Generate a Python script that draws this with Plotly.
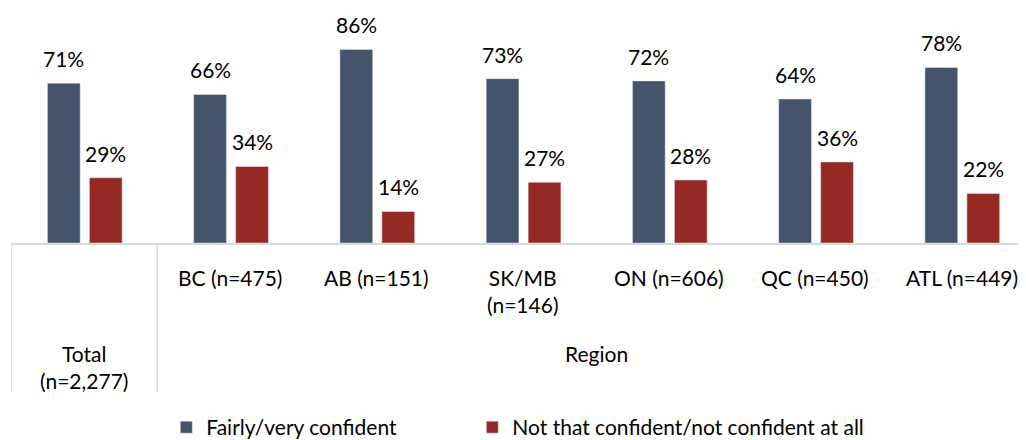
import plotly.graph_objects as go

categories = ["Total (n=2,277)", "BC (n=475)", "AB (n=151)", "SK/MB (n=146)",
              "ON (n=606)", "QC (n=450)", "ATL (n=449)"]
tick_labels = ["Total<br>(n=2,277)", "BC (n=475)", "AB (n=151)", "SK/MB<br>(n=146)",
               "ON (n=606)", "QC (n=450)", "ATL (n=449)"]
confident = [71, 66, 86, 73, 72, 64, 78]
not_confident = [29, 34, 14, 27, 28, 36, 22]
series_names = ["Fairly/very confident", "Not that confident/not confident at all"]
group_labels = ["Region"]

BLUE = "#44546A"
RED = "#952923"
FONT = "Lato"
FS = 21

x = list(range(len(categories)))
BW = 0.224

fig = go.Figure()
fig.add_trace(go.Bar(x=x, y=confident, name=series_names[0], marker_color=BLUE,
                     width=BW, offset=-0.251, hoverinfo="skip", legend="legend"))
fig.add_trace(go.Bar(x=x, y=not_confident, name=series_names[1], marker_color=RED,
                     width=BW, offset=0.036, hoverinfo="skip", legend="legend2"))

tf = dict(size=FS, color="#000000", family=FONT)
ann = []
for i in x:
    ann.append(dict(x=i - 0.251 + BW / 2, y=confident[i], text=f"{confident[i]}%",
                    xref="x", yref="y", showarrow=False, yanchor="bottom", yshift=10, font=tf))
    ann.append(dict(x=i + 0.036 + BW / 2, y=not_confident[i], text=f"{not_confident[i]}%",
                    xref="x", yref="y", showarrow=False, yanchor="bottom", yshift=10, font=tf))

# category labels (first level)
for i in x[1:]:
    ann.append(dict(x=i, y=0, xref="x", yref="paper", text=tick_labels[i], showarrow=False,
                    yanchor="top", yshift=-20, font=tf))
ann.append(dict(x=0, y=0, xref="x", yref="paper", text=tick_labels[0], showarrow=False,
                yanchor="top", yshift=-96, font=tf))
ann.append(dict(x=3.5, y=0, xref="x", yref="paper", text=group_labels[0], showarrow=False,
                yanchor="top", yshift=-96, font=tf))

shapes = []
for xv in [-0.5, 0.5]:
    shapes.append(dict(type="line", xref="x", yref="paper", x0=xv, x1=xv, y0=0, y1=-0.636,
                       line=dict(color="#D9D9D9", width=1.5)))

leg = dict(orientation="h", xanchor="left", y=-0.699, yanchor="top",
           font=tf, itemclick=False, itemdoubleclick=False, bgcolor="rgba(0,0,0,0)")

fig.update_layout(
    width=1026, height=440,
    margin=dict(l=3, r=8, t=0, b=201),
    paper_bgcolor="white", plot_bgcolor="white",
    font=dict(family=FONT, size=FS, color="#000000"),
    xaxis=dict(range=[-0.5, 6.44], showticklabels=False, showgrid=False, zeroline=False,
               showline=True, linecolor="#D9D9D9", linewidth=2, ticks=""),
    yaxis=dict(range=[0, 104.4], visible=False),
    annotations=ann,
    shapes=shapes,
    showlegend=True,
    legend=dict(leg, x=0.153),
    legend2=dict(leg, x=0.4545),
)

fig.write_html("out.html")
